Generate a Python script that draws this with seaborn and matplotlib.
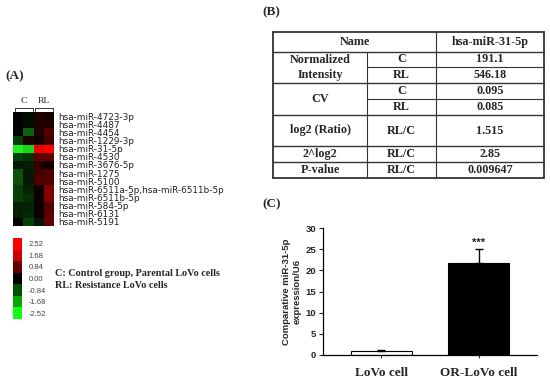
import numpy as np
import pandas as pd
import matplotlib
matplotlib.use("Agg")
import matplotlib.pyplot as plt
from matplotlib.colors import LinearSegmentedColormap, ListedColormap
import seaborn as sns

sns.set_style("white")
plt.rcParams['font.family'] = ['Liberation Sans', 'DejaVu Sans']

# ---------------- data ----------------
mirnas = ["hsa-miR-4723-3p", "hsa-miR-4487", "hsa-miR-4454", "hsa-miR-1229-3p",
          "hsa-miR-31-5p", "hsa-miR-4530", "hsa-miR-3676-5p", "hsa-miR-1275",
          "hsa-miR-5100", "hsa-miR-6511a-5p,hsa-miR-6511b-5p", "hsa-miR-6511b-5p",
          "hsa-miR-584-5p", "hsa-miR-6131", "hsa-miR-5191"]
c1 = [0.0, 0.0, 0.0, -0.63, -2.35, -0.63, -0.25, -0.8, -0.8, -0.63, -0.63, -0.3, -0.3, 0.0]
c2 = [-0.1, -0.15, -0.95, 0.3, -2.1, -0.5, -0.3, -0.25, -0.25, -0.35, -0.45, -0.35, -0.4, -0.6]
rl1 = [0.3, 0.3, 0.3, 0.15, 2.35, 0.95, 0.45, 0.63, 0.8, 0.15, 0.15, 0.15, 0.15, -0.25]
rl2 = [0.2, 0.3, 0.8, 0.63, 2.52, 0.95, 0.15, 0.8, 0.8, 1.26, 1.26, 0.8, 0.95, 0.95]
scale_levels = [2.52, 1.68, 0.84, 0.00, -0.84, -1.68, -2.52]
scale_colors = ["#ff0000", "#cc0000", "#650000", "#000000", "#004f00", "#00a800", "#10ff10"]

table_rows = [
    ["Normalized\nIntensity", "C", "191.1"],
    [None, "RL", "546.18"],
    ["CV", "C", "0.095"],
    [None, "RL", "0.085"],
    ["log2 (Ratio)", "RL/C", "1.515"],
    ["2^log2", "RL/C", "2.85"],
    ["P-value", "RL/C", "0.009647"],
]
table_header = ["Name", "hsa-miR-31-5p"]

cells = ["LoVo cell", "OR-LoVo cell"]
expression = [1.0, 21.8]
expression_err = [0.1, 3.2]
signif = ["", "***"]

# ---------------- figure ----------------
W, H = 550, 385
fig = plt.figure(figsize=(W / 100, H / 100), dpi=100)
fig.patch.set_facecolor("white")

def px_axes(x0, y0, x1, y1):
    return fig.add_axes([x0 / W, 1 - y1 / H, (x1 - x0) / W, (y1 - y0) / H])

ov = fig.add_axes([0, 0, 1, 1])
ov.set_xlim(0, W)
ov.set_ylim(H, 0)
ov.axis("off")
ov.set_zorder(-1)

serif = ['Liberation Serif', 'DejaVu Serif']

# panel labels
ov.text(5, 76, "(A)", fontsize=9.5, fontweight="bold", family=serif, va="center")
ov.text(262, 12, "(B)", fontsize=9.5, fontweight="bold", family=serif, va="center")
ov.text(262, 204, "(C)", fontsize=9.5, fontweight="bold", family=serif, va="center")

# ---- heatmap ----
df = pd.DataFrame({"C1": c1, "C2": c2, "RL1": rl1, "RL2": rl2}, index=mirnas)
cmap = LinearSegmentedColormap.from_list("gkr", ["#20ff20", "#000000", "#ff0000"])
axh = px_axes(13, 112, 54, 226)
sns.heatmap(df, ax=axh, cmap=cmap, vmin=-2.52, vmax=2.52, cbar=False,
            xticklabels=False, yticklabels=True)
axh.yaxis.tick_right()
axh.tick_params(axis="y", length=0, pad=3, labelsize=6.4, labelcolor="#222222")
for t in axh.get_yticklabels():
    t.set_rotation(0)
    t.set_fontfamily("DejaVu Sans")
axh.set_xlabel("")
axh.set_ylabel("")

# brackets
for (xa, xb, lab) in [(14.5, 32.5, "C"), (34.5, 53, "RL")]:
    ov.plot([xa, xa, xb, xb], [110.5, 107.5, 107.5, 110.5], color="#333333", lw=0.7)
    ov.text((xa + xb) / 2, 105, lab, fontsize=6.8, family=serif, ha="center", va="bottom", color="#222222")

# ---- colour scale ----
axc = px_axes(13, 238, 22, 319)
lv = pd.DataFrame({"v": np.arange(len(scale_levels))}, index=[f"{v:.2f}" for v in scale_levels])
sns.heatmap(lv, ax=axc, cmap=ListedColormap(scale_colors), cbar=False,
            xticklabels=False, yticklabels=True)
axc.yaxis.tick_right()
axc.tick_params(axis="y", length=0, pad=5, labelsize=5.5, labelcolor="#444444")
for t in axc.get_yticklabels():
    t.set_rotation(0)
axc.set_ylabel("")

ov.text(55, 273, "C: Control group, Parental LoVo cells", fontsize=7.3, fontweight="bold",
        family=serif, va="center")
ov.text(55, 286, "RL: Resistance LoVo cells", fontsize=7.3, fontweight="bold",
        family=serif, va="center")

# ---- table (B) ----
tx = [273, 367, 436, 544]
ty = [32, 52, 67, 83, 99, 115, 146, 162, 178]
lc = "#333333"
for y in [52, 83, 115, 146, 162]:
    ov.plot([tx[0], tx[3]], [y, y], color=lc, lw=1.0)
for y in [67, 99]:
    ov.plot([tx[1], tx[3]], [y, y], color=lc, lw=0.8)
ov.plot([tx[0], tx[0]], [32, 178], color=lc, lw=1.3)
ov.plot([tx[3], tx[3]], [32, 178], color=lc, lw=1.3)
ov.plot([tx[1], tx[1]], [52, 178], color=lc, lw=0.8)
ov.plot([tx[2], tx[2]], [32, 178], color=lc, lw=0.8)
for y in [32, 178]:
    ov.plot([tx[0], tx[3]], [y, y], color=lc, lw=1.3)

tfs = 8.7
cx = [(tx[0] + tx[1]) / 2, (tx[1] + tx[2]) / 2, (tx[2] + tx[3]) / 2]
ov.text((tx[0] + tx[2]) / 2, (ty[0] + ty[1]) / 2, table_header[0], fontsize=tfs, fontweight="bold",
        family=serif, ha="center", va="center")
ov.text(cx[2], (ty[0] + ty[1]) / 2, table_header[1], fontsize=tfs, fontweight="bold",
        family=serif, ha="center", va="center")
row_bounds = [(52, 67), (67, 83), (83, 99), (99, 115), (115, 146), (146, 162), (162, 178)]
group_bounds = {0: (52, 83), 2: (83, 115)}
for i, (r, (y0, y1)) in enumerate(zip(table_rows, row_bounds)):
    if r[0] is not None:
        g0, g1 = group_bounds.get(i, (y0, y1))
        ov.text(cx[0], (g0 + g1) / 2, r[0], fontsize=tfs, fontweight="bold", family=serif,
                ha="center", va="center", linespacing=1.25)
    ov.text(cx[1], (y0 + y1) / 2, r[1], fontsize=tfs, fontweight="bold", family=serif,
            ha="center", va="center")
    ov.text(cx[2], (y0 + y1) / 2, r[2], fontsize=tfs, fontweight="bold", family=serif,
            ha="center", va="center")

# ---- bar chart (C) ----
axb = px_axes(323, 228, 537, 355)
bdf = pd.DataFrame({"cell": cells, "expr": expression})
sns.barplot(data=bdf, x="cell", y="expr", hue="cell", palette=["white", "black"],
            edgecolor="black", linewidth=0.8, width=0.62, errorbar=None, legend=False, ax=axb)
axb.errorbar(x=np.arange(len(cells)), y=expression,
             yerr=[np.zeros(len(cells)), expression_err], fmt="none",
             ecolor="black", elinewidth=1.0, capsize=3, capthick=1.0)
for i, (v, e, s) in enumerate(zip(expression, expression_err, signif)):
    if s:
        axb.text(i, v + e + 0.3, s, ha="center", va="bottom", fontsize=8, fontweight="bold")
axb.set_xlim(-0.6, 1.6)
axb.set_ylim(0, 30)
axb.set_yticks(range(0, 31, 5))
axb.spines["top"].set_visible(False)
axb.spines["right"].set_visible(False)
for sp in ["left", "bottom"]:
    axb.spines[sp].set_color("black")
    axb.spines[sp].set_linewidth(0.9)
axb.tick_params(axis="y", left=True, length=3, width=0.8, labelsize=6.8, pad=2)
axb.tick_params(axis="x", bottom=True, length=2.5, width=0.8, pad=6)
for t in axb.get_yticklabels():
    t.set_fontweight("bold")
for t in axb.get_xticklabels():
    t.set_fontfamily(serif)
    t.set_fontweight("bold")
    t.set_fontsize(9.5)
axb.set_xlabel("")
axb.set_ylabel("Comparative miR-31-5p\nexpression/U6", fontsize=6.8, fontweight="bold",
               labelpad=3, linespacing=1.1)

fig.savefig("out.png", dpi=100, facecolor="white")
